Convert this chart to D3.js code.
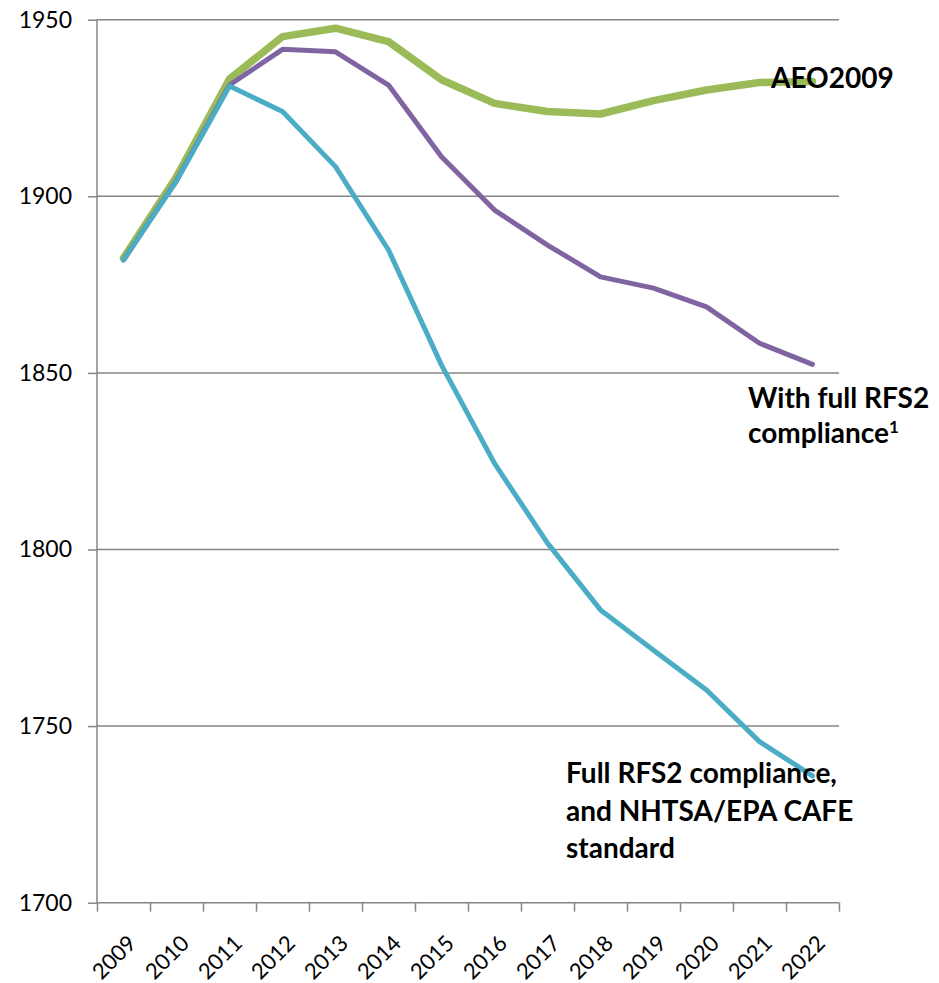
<!DOCTYPE html>
<html>
<head>
<meta charset="utf-8">
<script src="https://cdn.jsdelivr.net/npm/d3@7"></script>
<style>
  body { margin: 0; background: #fff; }
  svg { display: block; font-family: Lato, "Open Sans", sans-serif; }
  .domain { display: none; }
  .label { font-weight: bold; font-size: 28px; fill: #000; }
</style>
</head>
<body>
<div id="chart"></div>
<script>
const years = ["2009", "2010", "2011", "2012", "2013", "2014", "2015", "2016", "2017", "2018", "2019", "2020", "2021", "2022"];
const aeo2009 = [1882.5, 1905.5, 1933.2, 1945.2, 1947.6, 1943.8, 1933, 1926.3, 1924, 1923.3, 1927.1, 1930.1, 1932.2, 1932.5];
const fullRfs2 = [1882, 1904.5, 1931.5, 1941.6, 1940.9, 1931.5, 1911.2, 1896.1, 1886.2, 1877.2, 1874, 1868.7, 1858.4, 1852.4];
const rfs2Cafe = [1882, 1904.3, 1931.2, 1924, 1908.4, 1884.8, 1852.2, 1824.4, 1801.8, 1782.9, 1771.5, 1760.2, 1745.6, 1735.9];
const yTicks = [1700, 1750, 1800, 1850, 1900, 1950];

const config = {
  width: 939,
  height: 983,
  margin: { top: 19.7, right: 100, bottom: 80.3, left: 97 },
};

const width = config.width - config.margin.left - config.margin.right;
const height = config.height - config.margin.top - config.margin.bottom;

const svg = d3.select("#chart").append("svg")
  .attr("width", config.width)
  .attr("height", config.height);

const chart = svg.append("g")
  .attr("transform", `translate(${config.margin.left},${config.margin.top})`);

const x = d3.scaleBand().domain(years).range([0, width]).padding(0);
const xEdge = d3.scaleLinear().domain([0, years.length]).range([0, width]);
const y = d3.scaleLinear().domain([1700, 1950]).range([height, 0]);

// Gridlines
chart.append("g")
  .selectAll("line")
  .data(yTicks)
  .join("line")
  .attr("x1", 0)
  .attr("x2", width)
  .attr("y1", d => y(d))
  .attr("y2", d => y(d))
  .attr("stroke", "#868686")
  .attr("stroke-width", 1.5);

// Y axis
const yAxis = chart.append("g")
  .call(d3.axisLeft(y).tickValues(yTicks).tickSize(9).tickPadding(16).tickFormat(d3.format("d")));
yAxis.selectAll(".tick line").attr("stroke", "#868686").attr("stroke-width", 1.5);
yAxis.selectAll(".tick text").attr("font-size", 23).attr("fill", "#000").attr("font-family", "Lato, sans-serif");
chart.append("line")
  .attr("x1", 0).attr("x2", 0)
  .attr("y1", 0).attr("y2", height)
  .attr("stroke", "#868686").attr("stroke-width", 1.5);

// X axis ticks at band edges
const xAxis = chart.append("g")
  .attr("transform", `translate(0,${height})`)
  .call(d3.axisBottom(xEdge).tickValues(d3.range(years.length + 1)).tickSize(9).tickFormat(""));
xAxis.selectAll(".tick line").attr("stroke", "#868686").attr("stroke-width", 1.5);

// X labels (rotated)
chart.append("g")
  .selectAll("text")
  .data(years)
  .join("text")
  .attr("transform", d => `translate(${x(d) + x.bandwidth() / 2 + 14},${height + 42}) rotate(-45)`)
  .attr("text-anchor", "end")
  .attr("font-size", 22)
  .attr("fill", "#000")
  .text(d => d);

// Lines
const line = d3.line()
  .x((d, i) => x(years[i]) + x.bandwidth() / 2)
  .y(d => y(d));

const series = [
  { values: aeo2009, color: "#9BBB59", w: 7.5 },
  { values: fullRfs2, color: "#8064A2", w: 5 },
  { values: rfs2Cafe, color: "#4BACC6", w: 5 },
];

chart.append("g")
  .selectAll("path")
  .data(series)
  .join("path")
  .attr("d", d => line(d.values))
  .attr("fill", "none")
  .attr("stroke", d => d.color)
  .attr("stroke-width", d => d.w)
  .attr("stroke-linecap", "round")
  .attr("stroke-linejoin", "round");

// Annotations
svg.append("text").attr("class", "label").attr("x", 771).attr("y", 88).text("AEO2009");

svg.append("text").attr("class", "label").attr("x", 748).attr("y", 408).text("With full RFS2");
const t2b = svg.append("text").attr("class", "label").attr("x", 748).attr("y", 443);
t2b.append("tspan").text("compliance");
t2b.append("tspan").attr("dy", -10).attr("font-size", 17).text("1");

["Full RFS2 compliance,", "and NHTSA/EPA CAFE", "standard"].forEach((s, i) => {
  svg.append("text").attr("class", "label").attr("x", 566).attr("y", 783 + i * 37.5).text(s);
});
</script>
</body>
</html>
